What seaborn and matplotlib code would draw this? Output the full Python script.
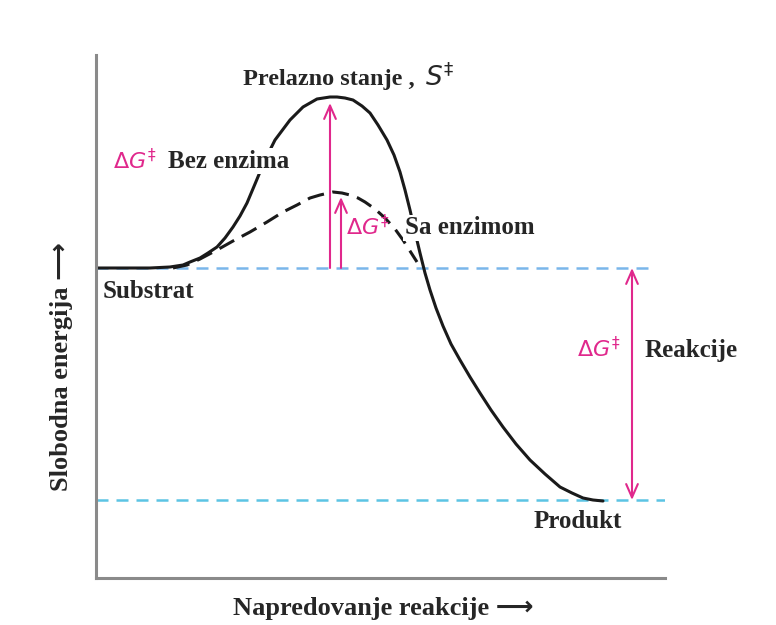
import matplotlib
matplotlib.use("Agg")
import matplotlib.pyplot as plt
import seaborn as sns
import pandas as pd

# reakcijski put (x) i slobodna energija (y), ocitano sa slike
put_bez = [0, 34, 54, 74, 87, 94, 104, 112, 121, 129, 137, 144, 151, 159, 169, 179, 194, 207,
           214, 221, 234, 241, 249, 257, 266, 274, 282, 291, 298, 304, 309, 314, 319, 324, 329,
           334, 340, 347, 355, 364, 374, 384, 395, 407, 420, 434, 449, 464, 476, 487, 497, 507]
energija_bez = [310, 310, 310, 311, 313, 316, 320, 325, 331, 340, 351, 362, 375, 394, 418, 438,
                458, 471, 475, 479, 481, 481, 480, 478, 472, 465, 453, 438, 423, 406, 388, 368,
                346, 325, 305, 288, 270, 252, 234, 218, 201, 185, 168, 151, 134, 118, 104, 91,
                85, 80, 78, 77]

put_sa = [77, 91, 104, 121, 137, 154, 171, 187, 201, 214, 224, 237, 246, 254, 262, 269, 279,
          289, 299, 307, 314, 321]
energija_sa = [310, 313, 319, 328, 337, 346, 356, 366, 373, 380, 383, 386, 385, 383, 380, 376,
               369, 360, 349, 338, 327, 316]

E_substrat = 310
E_produkt = 78
E_vrh_bez = 475
E_vrh_sa = 381

pink = "#e0288c"
tekst = "#262626"

sns.set_theme(style="white")
plt.rcParams["font.family"] = ["Liberation Serif", "DejaVu Sans"]
plt.rcParams["mathtext.fontset"] = "dejavusans"

fig = plt.figure(figsize=(7.76, 6.25), dpi=100)
ax = fig.add_axes([96 / 776, 47 / 625, 569 / 776, 523 / 625])

df_bez = pd.DataFrame({"put": put_bez, "energija": energija_bez})
df_sa = pd.DataFrame({"put": put_sa, "energija": energija_sa})

sns.lineplot(data=df_bez, x="put", y="energija", ax=ax, color="#1a1a1a", lw=2.2,
             sort=False, estimator=None, solid_joinstyle="round", solid_capstyle="round")
sns.lineplot(data=df_sa, x="put", y="energija", ax=ax, color="#1a1a1a", lw=2.2,
             sort=False, estimator=None, linestyle=(0, (5.5, 2.8)), dash_joinstyle="round")

ax.hlines(E_substrat, 0, 559, colors="#7ab6ea", lw=1.8, linestyles=[(0, (4.8, 3.2))], zorder=1)
ax.hlines(E_produkt, 0, 569, colors="#5cc4e4", lw=1.8, linestyles=[(0, (4.8, 3.2))], zorder=1)

strelica = dict(arrowstyle="->,head_length=0.8,head_width=0.35", color=pink, lw=1.5,
                shrinkA=0, shrinkB=0)
ax.annotate("", xy=(234, E_vrh_bez), xytext=(234, E_substrat), arrowprops=strelica)
ax.annotate("", xy=(245, E_vrh_sa), xytext=(245, E_substrat), arrowprops=strelica)
ax.annotate("", xy=(536, E_produkt), xytext=(536, E_substrat),
            arrowprops=dict(strelica, arrowstyle="<->,head_length=0.8,head_width=0.35"))

bb = dict(facecolor="white", edgecolor="none", pad=1)
ax.text(147, 498, "Prelazno stanje ,", fontsize=17.5, fontweight="bold", color=tekst, va="center")
ax.text(329, 501, r"$S^{\ddagger}$", fontsize=19, color=tekst, va="center")
ax.text(17, 416, r"$\Delta G^{\ddagger}$", fontsize=16, color=pink, va="center")
ax.text(72, 417, "Bez enzima", fontsize=18, fontweight="bold", color=tekst, va="center",
        bbox=bb, zorder=5)
ax.text(250, 350, r"$\Delta G^{\ddagger}$", fontsize=16, color=pink, va="center")
ax.text(309, 350, "Sa enzimom", fontsize=18, fontweight="bold", color=tekst, va="center",
        bbox=bb, zorder=5)
ax.text(7, 287, "Substrat", fontsize=18, fontweight="bold", color=tekst, va="center")
ax.text(481, 228, r"$\Delta G^{\ddagger}$", fontsize=16, color=pink, va="center")
ax.text(549, 228, "Reakcije", fontsize=18, fontweight="bold", color=tekst, va="center")
ax.text(438, 57, "Produkt", fontsize=18, fontweight="bold", color=tekst, va="center")

ax.set_xlim(0, 569)
ax.set_ylim(0, 523)
ax.set_xticks([])
ax.set_yticks([])
ax.set_xlabel("Napredovanje reakcije ⟶", fontsize=19, fontweight="bold", color=tekst)
ax.set_ylabel("Slobodna energija ⟶", fontsize=19, fontweight="bold", color=tekst)
ax.xaxis.set_label_coords(0.505, -0.036)
ax.yaxis.set_label_coords(-0.04, 0.405)

for s in ["top", "right"]:
    ax.spines[s].set_visible(False)
for s in ["left", "bottom"]:
    ax.spines[s].set_color("#8a8a8a")
    ax.spines[s].set_linewidth(2.2)

fig.savefig("out.png", dpi=100)
